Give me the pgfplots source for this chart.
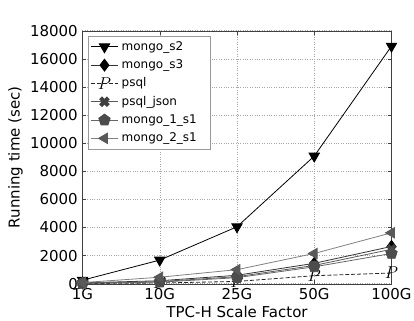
\documentclass[border=0pt]{standalone}
\usepackage{pgfplots}
\pgfplotsset{compat=1.18}
\usepackage{fontspec}
\setmainfont{DejaVu Sans}
\pgfdeclareplotmark{Xf}{%
  \pgftransformrotate{45}%
  \pgfpathrectangle{\pgfpoint{-\pgfplotmarksize}{-0.36\pgfplotmarksize}}{\pgfpoint{2\pgfplotmarksize}{0.72\pgfplotmarksize}}%
  \pgfpathrectangle{\pgfpoint{-0.36\pgfplotmarksize}{-\pgfplotmarksize}}{\pgfpoint{0.72\pgfplotmarksize}{2\pgfplotmarksize}}%
  \pgfusepathqfill}
\begin{document}
\begin{tikzpicture}
\begin{axis}[
  scale only axis, width=309bp, height=253bp,
  xmin=0, xmax=4, ymin=0, ymax=18000,
  xtick={0,1,2,3,4}, xticklabels={1G,10G,25G,50G,100G},
  ytick={0,2000,4000,6000,8000,10000,12000,14000,16000,18000},
  scaled y ticks=false,
  /pgf/number format/assume math mode=true,
  /pgf/number format/1000 sep={},
  tick label style={font=\fontsize{15bp}{17bp}\selectfont, inner sep=0pt},
  yticklabel style={xshift=-4.5bp},
  xticklabel style={yshift=-4bp},
  every axis y label/.style={at={(axis description cs:0,0.5)}, xshift=-67bp, rotate=90, anchor=center, font=\fontsize{15bp}{17bp}\selectfont},
  every axis x label/.style={at={(axis description cs:0.5,0)}, yshift=-33.5bp, anchor=base, font=\fontsize{15bp}{17bp}\selectfont},
  xlabel={TPC-H Scale Factor}, ylabel={Running time (sec)},
  axis line style={black!75},
  grid=major, grid style={dotted, black!35, line width=0.5pt},
  tick align=inside, major tick length=4bp, tick style={black!75},
  clip mode=individual,
  legend style={at={(0,1)}, anchor=north west, xshift=6bp, yshift=-5.3bp,
    font=\fontsize{12bp}{14bp}\selectfont, draw=black!40, row sep=0pt, inner sep=1.5bp,
    nodes={inner sep=2.9bp, text height=9.5bp, text depth=3bp},
    /tikz/every even column/.append style={column sep=4bp}},
  legend cell align=left,
  legend image code/.code={\draw[mark repeat=2,mark phase=2] plot coordinates {(0cm,0cm) (0.49cm,0cm) (0.98cm,0cm)};},
]
\addplot[black, line width=0.8pt, mark=triangle*, mark size=6pt, mark options={rotate=180, solid}] coordinates {(0,250) (1,1680) (2,4050) (3,9080) (4,16900)};
\addlegendentry{mongo\_s2}
\addplot[black!80, line width=0.8pt, mark=diamond*, mark size=6pt, mark options={solid, black}] coordinates {(0,60) (1,210) (2,600) (3,1450) (4,2650)};
\addlegendentry{mongo\_s3}
\addplot[black!85, line width=0.8pt, dash pattern=on 4pt off 2pt, mark=text, text mark={\fontsize{17bp}{17bp}\selectfont$P$}, mark options={solid}] coordinates {(0,10) (1,50) (2,160) (3,570) (4,760)};
\addlegendentry{psql}
\addplot[black!65, line width=0.8pt, mark=Xf, mark size=5.5pt, mark options={solid, black!75}] coordinates {(0,40) (1,150) (2,500) (3,1300) (4,2450)};
\addlegendentry{psql\_json}
\addplot[black!60, line width=0.8pt, mark=pentagon*, mark size=6pt, mark options={solid, black!70}] coordinates {(0,30) (1,110) (2,430) (3,1200) (4,2150)};
\addlegendentry{mongo\_1\_s1}
\addplot[black!50, line width=0.8pt, mark=triangle*, mark size=6pt, mark options={rotate=90, solid, black!65}] coordinates {(0,80) (1,460) (2,1000) (3,2150) (4,3620)};
\addlegendentry{mongo\_2\_s1\rule{9bp}{0pt}}
\end{axis}
\pgfresetboundingbox
\path[use as bounding box] ([shift={(-82.5bp,-37bp)}]current axis.south west) rectangle ([shift={(22.5bp,30.7bp)}]current axis.north east);
\end{tikzpicture}
\end{document}
